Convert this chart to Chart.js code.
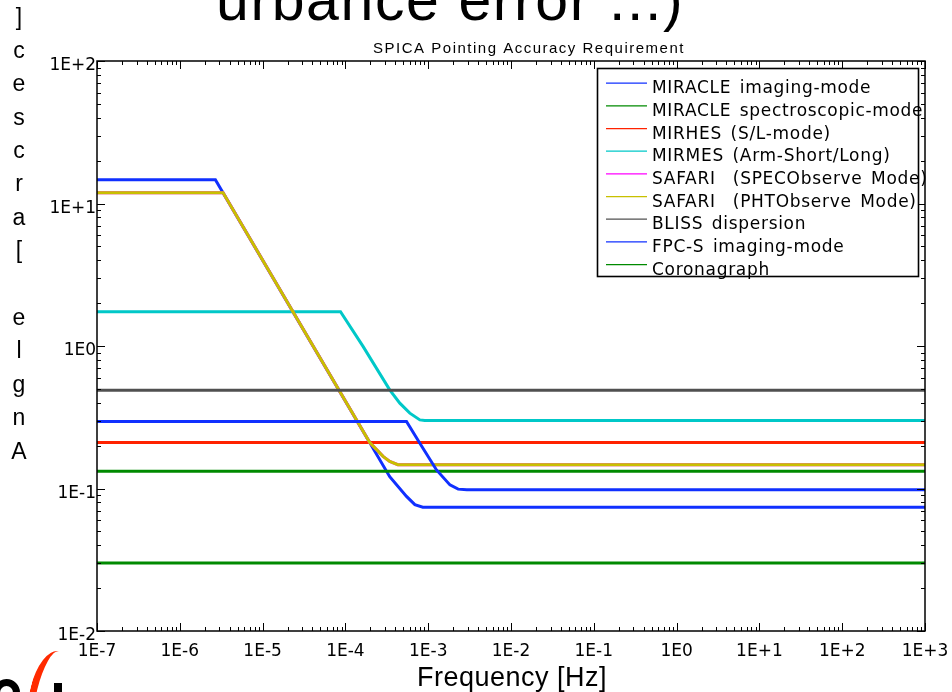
<!DOCTYPE html>
<html><head><meta charset="utf-8">
<script src="https://cdn.jsdelivr.net/npm/chart.js@4"></script>
<style>
html,body{margin:0;padding:0;background:#fff;}
#wrap{position:relative;width:952px;height:692px;overflow:hidden;background:#fff;}
#c{position:absolute;left:0;top:0;}
.ov{position:absolute;font-family:'Liberation Sans',Arial,sans-serif;color:#000;white-space:nowrap;}
#slideTitle{left:216px;top:-29px;font-size:59px;line-height:1;letter-spacing:1.6px;}
#ylab{left:7px;top:-2px;width:24px;height:470px;display:flex;flex-direction:column-reverse;align-items:center;justify-content:flex-start;font-size:23px;}
#ylab span{display:block;height:33.4px;line-height:33.4px;text-align:center;}
#logoArc{position:absolute;left:30px;top:650px;width:30px;height:84px;border-left:7px solid #ff2a00;border-radius:50%;transform:rotate(14deg);}
#logoO{position:absolute;left:-7px;top:679px;width:27px;height:27px;border-radius:50%;border:7px solid #000;box-sizing:border-box;}
#logoBar{position:absolute;left:54px;top:683px;width:8px;height:12px;background:#000;}
</style></head><body>
<div id="wrap">
<canvas id="c" width="952" height="692"></canvas>
<div class="ov" id="slideTitle">urbance error ...)</div>
<div class="ov" id="ylab"></div>
<div id="logoArc"></div><div id="logoO"></div><div id="logoBar"></div>
</div>
<script>
// ---- data ----
const xTickLabels = ['1E-7','1E-6','1E-5','1E-4','1E-3','1E-2','1E-1','1E0','1E+1','1E+2','1E+3'];
const yTickLabels = ['1E-2','1E-1','1E0','1E+1','1E+2'];
const seriesNames = ['MIRACLE imaging-mode','MIRACLE spectroscopic-mode','MIRHES (S/L-mode)','MIRMES (Arm-Short/Long)','SAFARI  (SPECObserve Mode)','SAFARI  (PHTObserve Mode)','BLISS dispersion','FPC-S imaging-mode','Coronagraph'];
const seriesColors = ['#1030ff','#008a00','#ff2200','#00c8c8','#ff00ff','#c8c000','#505050','#1030ff','#008a00'];

const miracleImgFreq = [1e-7, 2.69e-6, 3.43e-4, 5.47e-4, 6.9e-4, 8.6e-4, 1e3];
const miracleImgVal  = [14.7, 14.7, 0.121, 0.088, 0.077, 0.074, 0.074];
const miracleSpecFreq = [1e-7, 1e3];
const miracleSpecVal  = [0.132, 0.132];
const mirhesFreq = [1e-7, 1e3];
const mirhesVal  = [0.21, 0.21];
const mirmesFreq = [1e-7, 8.73e-5, 1.64e-4, 3.43e-4, 4.54e-4, 6.0e-4, 7.93e-4, 9.1e-4, 1e3];
const mirmesVal  = [1.74, 1.74, 0.99, 0.492, 0.397, 0.338, 0.303, 0.3, 0.3];
const safariSpecFreq = [1e-7, 3.33e-6, 1.97e-4, 2.85e-4, 3.43e-4, 4.3e-4, 1e3];
const safariSpecVal  = [11.9, 11.9, 0.21, 0.168, 0.155, 0.147, 0.147];
const safariPhtFreq = [1e-7, 3.33e-6, 1.97e-4, 2.85e-4, 3.43e-4, 4.3e-4, 1e3];
const safariPhtVal  = [11.9, 11.9, 0.21, 0.168, 0.155, 0.147, 0.147];
const blissFreq = [1e-7, 1e3];
const blissVal  = [0.49, 0.49];
const fpcsFreq = [1e-7, 5.47e-4, 7.93e-4, 1.26e-3, 1.83e-3, 2.3e-3, 2.93e-3, 1e3];
const fpcsVal  = [0.295, 0.295, 0.208, 0.135, 0.106, 0.099, 0.098, 0.098];
const coronaFreq = [1e-7, 1e3];
const coronaVal  = [0.030, 0.030];

const seriesFreq = [miracleImgFreq, miracleSpecFreq, mirhesFreq, mirmesFreq, safariSpecFreq, safariPhtFreq, blissFreq, fpcsFreq, coronaFreq];
const seriesVal  = [miracleImgVal, miracleSpecVal, mirhesVal, mirmesVal, safariSpecVal, safariPhtVal, blissVal, fpcsVal, coronaVal];

const chartTitle = 'SPICA Pointing Accuracy Requirement';
const xTitle = 'Frequency [Hz]';
const yTitle = 'Angle [arcsec]';

// vertical stacked y label (bottom to top)
const ylab = document.getElementById('ylab');
for (const ch of yTitle) { const s = document.createElement('span'); s.textContent = ch === ' ' ? '\u00a0' : ch; ylab.appendChild(s); }

function decadeTicks(minE, maxE) {
  const t = [];
  for (let e = minE; e <= maxE; e++) {
    for (let m = 1; m <= 9; m++) { if (e === maxE && m > 1) break; t.push({value: m * Math.pow(10, e)}); }
  }
  return t;
}
function labelFor(v, labels, minE) {
  const e = Math.round(Math.log10(v));
  if (Math.abs(v / Math.pow(10, e) - 1) < 1e-6) return labels[e - minE] || '';
  return '';
}

const datasets = seriesNames.map((n, i) => ({
  label: n,
  data: seriesFreq[i].map((f, k) => ({x: f, y: seriesVal[i][k]})),
  borderColor: seriesColors[i],
  backgroundColor: seriesColors[i],
  borderWidth: 3,
  pointRadius: 0,
  tension: 0,
  fill: false,
  showLine: true,
  order: 9 - i
}));

const decor = {
  id: 'decor',
  afterDraw(chart) {
    const ctx = chart.ctx, a = chart.chartArea, xs = chart.scales.x, ys = chart.scales.y;
    ctx.save();
    // inward ticks on all sides
    ctx.strokeStyle = '#000'; ctx.lineWidth = 1;
    ctx.beginPath();
    xs.ticks.forEach(t => {
      const px = Math.round(xs.getPixelForValue(t.value)) + 0.5;
      const len = t.label ? 8 : 4;
      ctx.moveTo(px, a.bottom); ctx.lineTo(px, a.bottom - len);
      ctx.moveTo(px, a.top); ctx.lineTo(px, a.top + len);
    });
    ys.ticks.forEach(t => {
      const py = Math.round(ys.getPixelForValue(t.value)) + 0.5;
      const len = t.label ? 8 : 4;
      ctx.moveTo(a.left, py); ctx.lineTo(a.left + len, py);
      ctx.moveTo(a.right, py); ctx.lineTo(a.right - len, py);
    });
    ctx.stroke();
    // frame
    ctx.lineWidth = 1.5;
    ctx.strokeRect(a.left, a.top, a.right - a.left, a.bottom - a.top);
    // legend
    const lx = 597.5, ly = 68.5, lw = 321, lh = 208;
    ctx.fillStyle = '#fff';
    ctx.fillRect(lx, ly, lw, lh);
    ctx.lineWidth = 1.6; ctx.strokeStyle = '#000';
    ctx.strokeRect(lx, ly, lw, lh);
    ctx.font = '17px "DejaVu Sans", sans-serif';
    if ('letterSpacing' in ctx) ctx.letterSpacing = '0.7px';
    if ('wordSpacing' in ctx) ctx.wordSpacing = '2.5px';
    ctx.textAlign = 'left'; ctx.textBaseline = 'alphabetic';
    chart.data.datasets.forEach((d, i) => {
      const ry = 86.7 + i * 22.67;
      ctx.strokeStyle = d.borderColor; ctx.lineWidth = 1.3;
      ctx.beginPath(); ctx.moveTo(606, ry - 3.5); ctx.lineTo(647, ry - 3.5); ctx.stroke();
      ctx.fillStyle = '#000';
      ctx.fillText(d.label, 652, ry + 6.5);
    });
    if ('wordSpacing' in ctx) ctx.wordSpacing = '0px';
    // title
    ctx.font = '15px "Liberation Sans", Arial, sans-serif';
    ctx.textAlign = 'center'; ctx.textBaseline = 'alphabetic';
    if ('letterSpacing' in ctx) ctx.letterSpacing = '1.5px';
    ctx.fillText(chartTitle, 529, 53);
    // x title
    ctx.font = '27px "Liberation Sans", Arial, sans-serif';
    if ('letterSpacing' in ctx) ctx.letterSpacing = '0.5px';
    ctx.fillText(xTitle, 512, 686);
    ctx.restore();
  }
};

new Chart(document.getElementById('c'), {
  type: 'line',
  data: { datasets },
  options: {
    responsive: false,
    animation: false,
    events: [],
    layout: { padding: { top: 61, right: 27, left: 0, bottom: 0 } },
    plugins: { legend: { display: false }, tooltip: { enabled: false }, title: { display: false } },
    scales: {
      x: {
        type: 'logarithmic', min: 1e-7, max: 1e3, position: 'bottom',
        grid: { display: false, drawTicks: false }, border: { display: false },
        afterBuildTicks: s => { s.ticks = decadeTicks(-7, 3); },
        afterFit: s => { s.height = 61; s.paddingLeft = 0; s.paddingRight = 0; },
        ticks: { autoSkip: false, maxRotation: 0, minRotation: 0, padding: 10, color: '#000',
          font: { family: '"DejaVu Sans", sans-serif', size: 17 },
          callback: v => labelFor(v, xTickLabels, -7) }
      },
      y: {
        type: 'logarithmic', min: 1e-2, max: 1e2, position: 'left',
        grid: { display: false, drawTicks: false }, border: { display: false },
        afterBuildTicks: s => { s.ticks = decadeTicks(-2, 2); },
        afterFit: s => { s.width = 97; s.paddingTop = 0; s.paddingBottom = 0; },
        ticks: { autoSkip: false, padding: 1, labelOffset: 5, color: '#000',
          font: { family: '"DejaVu Sans", sans-serif', size: 17 },
          callback: v => labelFor(v, yTickLabels, -2) }
      }
    }
  },
  plugins: [decor]
});
</script>
</body></html>
